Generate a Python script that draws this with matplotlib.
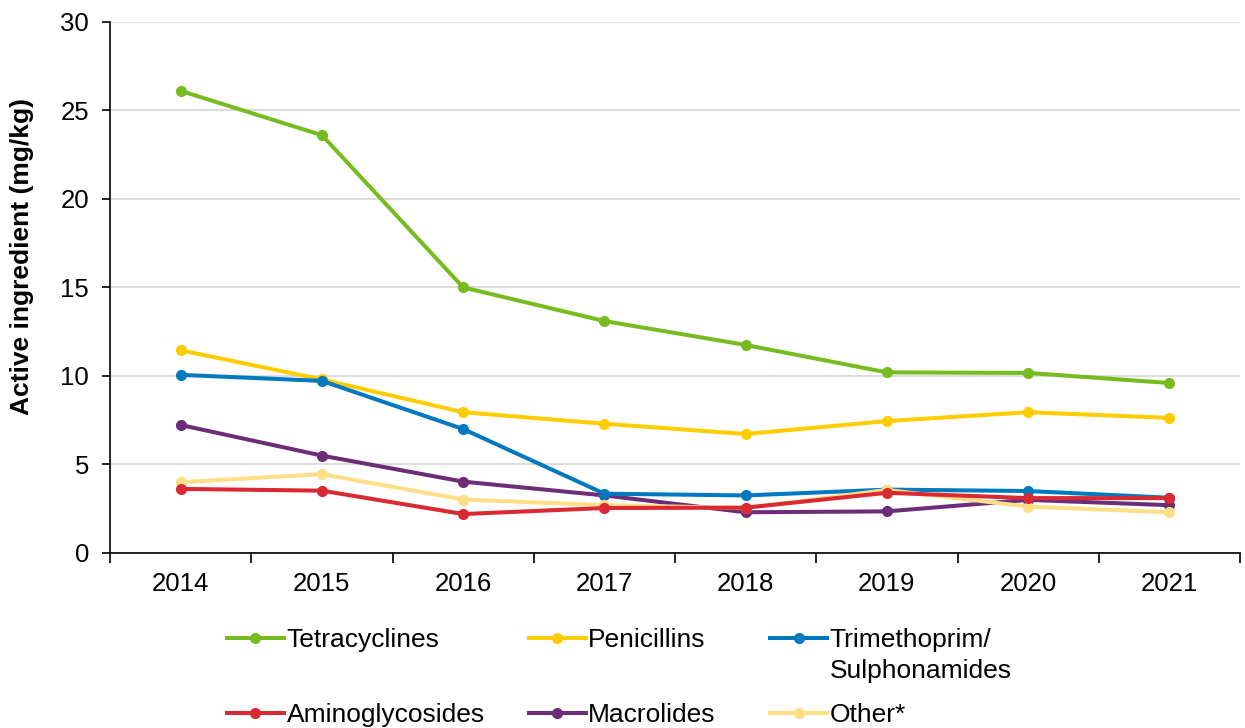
import numpy as np
import matplotlib as mpl
mpl.use("Agg")
import matplotlib.pyplot as plt
from matplotlib.lines import Line2D

years = ["2014", "2015", "2016", "2017", "2018", "2019", "2020", "2021"]

tetracyclines = [26.1, 23.6, 15.0, 13.1, 11.75, 10.2, 10.17, 9.6]
penicillins = [11.45, 9.8, 7.95, 7.3, 6.72, 7.45, 7.95, 7.63]
trimethoprim = [10.06, 9.72, 7.0, 3.35, 3.25, 3.58, 3.5, 3.12]
aminoglycosides = [3.62, 3.52, 2.2, 2.54, 2.56, 3.4, 3.1, 3.1]
macrolides = [7.23, 5.5, 4.03, 3.25, 2.3, 2.35, 3.0, 2.7]
other = [4.0, 4.45, 3.02, 2.7, 2.54, 3.56, 2.62, 2.3]

series = [
    ("Tetracyclines", tetracyclines, "#77BC1F"),
    ("Penicillins", penicillins, "#FFCC00"),
    ("Trimethoprim/\nSulphonamides", trimethoprim, "#0079C1"),
    ("Aminoglycosides", aminoglycosides, "#DA2932"),
    ("Macrolides", macrolides, "#6C2C77"),
    ("Other*", other, "#FFDE86"),
]
# draw order (back to front)
order = [0, 1, 4, 2, 5, 3]

plt.rcParams["font.family"] = ["Liberation Sans", "DejaVu Sans"]

fig = plt.figure(figsize=(12.45, 7.28), dpi=100)
ax = fig.add_axes([0.0884, 0.2404, 0.9076, 0.7296])

lw = 2.9
ms = 7
x = np.arange(len(years))
for i in order:
    name, vals, col = series[i]
    ax.plot(x, vals, color=col, linewidth=lw, marker="o", markersize=ms,
            zorder=3, solid_capstyle="round")

ax.set_xlim(-0.5, len(years) - 0.5)
ax.set_ylim(0, 30)
ax.set_yticks(range(0, 31, 5))
ax.set_xticks(x)
ax.set_xticklabels(years)
ax.set_xticks(np.arange(-0.5, len(years), 1), minor=True)
ax.tick_params(axis="x", which="major", length=0, pad=14, labelsize=18.5)
ax.tick_params(axis="x", which="minor", length=7.5, width=1.2, direction="out")
ax.tick_params(axis="y", length=6, width=1.2, labelsize=18.5, pad=9)
ax.grid(axis="y", color="#D9D9D9", linewidth=1.3, zorder=0)
ax.set_axisbelow(True)
for s in ["top", "right"]:
    ax.spines[s].set_visible(False)
ax.spines["left"].set_linewidth(1.2)
ax.spines["bottom"].set_linewidth(1.2)
ax.set_ylabel("Active ingredient (mg/kg)", fontsize=19, fontweight="bold")
ax.yaxis.set_label_coords(-0.067, 0.559)

# legend laid out by hand, three columns
col_x = [0.1823, 0.4245, 0.6185]
row_y = [1 - 638 / 728, 1 - 713 / 728]
hl = 0.0458
fs = 19
cap = fs * 100 / 72 * 0.716 / 2 / 728
line_gap = 31 / 728
for k, (name, vals, col) in enumerate(series):
    cx = col_x[k % 3]
    ry = row_y[k // 3]
    fig.add_artist(Line2D([cx, cx + hl], [ry, ry], color=col, linewidth=lw,
                          transform=fig.transFigure))
    fig.add_artist(Line2D([cx + hl / 2], [ry], color=col, marker="o",
                          markersize=ms, transform=fig.transFigure))
    for j, part in enumerate(name.split("\n")):
        fig.text(cx + hl + 0.002, ry - cap - j * line_gap, part, fontsize=fs,
                 va="baseline", ha="left")

fig.savefig("out.png", dpi=100)
